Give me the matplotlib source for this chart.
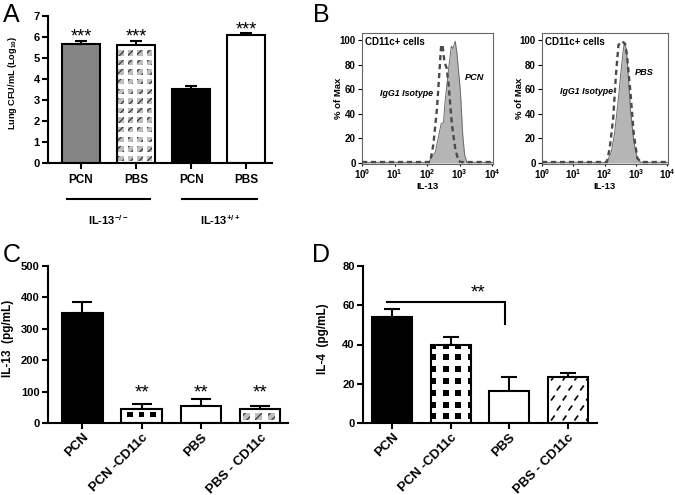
import numpy as np
import matplotlib
matplotlib.use('Agg')
import matplotlib.pyplot as plt
from matplotlib.patches import Rectangle
from matplotlib.collections import LineCollection

plt.rcParams['font.family'] = ['Liberation Sans', 'DejaVu Sans']
plt.rcParams['font.weight'] = 'bold'
plt.rcParams['mathtext.fontset'] = 'custom'
plt.rcParams['mathtext.rm'] = 'Liberation Sans:bold'
plt.rcParams['mathtext.it'] = 'Liberation Sans:italic:bold'
plt.rcParams['mathtext.bf'] = 'Liberation Sans:bold'
plt.rcParams['mathtext.default'] = 'rm'
plt.rcParams['hatch.linewidth'] = 0.9

# ---------------- data ----------------
a_categories = ['PCN', 'PBS', 'PCN', 'PBS']
a_values = [5.68, 5.63, 3.54, 6.08]
a_errors = [0.11, 0.18, 0.11, 0.13]
a_groups = ['IL-13$^{-/-}$', 'IL-13$^{+/+}$']
a_stars = ['***', '***', '', '***']

# flow histograms (log10 IL-13 intensity, % of max)
b_pcn_log = [0.0, 1.0, 2.0, 2.04, 2.25, 2.43, 2.5, 2.55, 2.66, 2.74, 2.79, 2.86, 2.91, 3.02, 3.09, 3.15, 3.22, 3.5, 4.0]
b_pcn_pct = [0.5, 0.6, 0.5, 0.5, 9, 32, 33, 50, 77, 95, 93, 99, 90, 58, 23, 6.5, 0.5, 0.6, 0.5]
b_iso1_log = [0.0, 1.0, 2.0, 2.09, 2.19, 2.3, 2.37, 2.43, 2.47, 2.53, 2.6, 2.66, 2.76, 2.86, 2.96, 3.05, 3.5, 4.0]
b_iso1_pct = [0.8, 0.8, 0.8, 0.8, 15, 44, 72, 96, 96, 82, 77, 63, 31, 12, 1.5, 0.8, 0.8, 0.8]
b_pbs_log = [0.0, 1.0, 2.0, 2.07, 2.21, 2.32, 2.44, 2.51, 2.58, 2.62, 2.69, 2.73, 2.82, 2.93, 3.04, 3.15, 3.5, 4.0]
b_pbs_pct = [0.5, 0.6, 0.5, 0.5, 9, 25, 53, 72, 89, 97, 93, 80, 44, 17, 4, 0.5, 0.6, 0.5]
b_iso2_log = [0.0, 1.0, 2.0, 2.07, 2.16, 2.27, 2.36, 2.44, 2.55, 2.65, 2.71, 2.82, 2.93, 3.04, 3.15, 3.5, 4.0]
b_iso2_pct = [0.8, 0.8, 0.8, 0.8, 12, 36, 72, 96, 99, 97, 88, 58, 23, 4, 0.8, 0.8, 0.8]
b_ticks = [1, 10, 100, 1000, 10000]
b_ticklabels = ['$10^{0}$', '$10^{1}$', '$10^{2}$', '$10^{3}$', '$10^{4}$']

c_categories = ['PCN', 'PCN -CD11c', 'PBS', 'PBS - CD11c']
c_values = [350, 46, 54, 44]
c_errors = [35, 13, 21, 10]
c_stars = ['', '**', '**', '**']

d_categories = ['PCN', 'PCN -CD11c', 'PBS', 'PBS - CD11c']
d_values = [54.2, 39.7, 16.3, 23.6]
d_errors = [3.7, 4.3, 7.3, 1.7]

W, H = 675, 495
fig = plt.figure(figsize=(W / 100, H / 100), dpi=100)


def rect(l, r, t, b):
    return [l / W, 1 - b / H, (r - l) / W, (b - t) / H]


def style_bar_axes(ax):
    for s in ['top', 'right']:
        ax.spines[s].set_visible(False)
    for s in ['left', 'bottom']:
        ax.spines[s].set_linewidth(1.5)
    ax.tick_params(axis='both', width=1.5, length=4, direction='out', labelsize=8, pad=2)


def px_box(ax, bar):
    x0, y0 = ax.transData.transform((bar.get_x(), bar.get_y()))
    x1, y1 = ax.transData.transform((bar.get_x() + bar.get_width(), bar.get_y() + bar.get_height()))
    return x0, y0, x1, y1


def square_tiles(ax, bar, stepx, stepy, size, offx, offy, face, hatch=None, ec='none'):
    inv = ax.transData.inverted()
    x0, y0, x1, y1 = px_box(ax, bar)
    for cx in np.arange(x0 + offx, x1 + size, stepx):
        for cy in np.arange(y0 + offy, y1 + size, stepy):
            (dx0, dy0) = inv.transform((cx - size / 2, cy - size / 2))
            (dx1, dy1) = inv.transform((cx + size / 2, cy + size / 2))
            r = Rectangle((dx0, dy0), dx1 - dx0, dy1 - dy0, facecolor=face,
                          edgecolor=ec, lw=0, hatch=hatch, zorder=2.5)
            ax.add_patch(r)
            r.set_clip_path(bar)


def slash_tiles(ax, bar, stepx, stepy, offx, offy, alt):
    inv = ax.transData.inverted()
    x0, y0, x1, y1 = px_box(ax, bar)
    segs = []
    for i, cy in enumerate(np.arange(y0 + offy, y1 + 4, stepy)):
        shift = alt if i % 2 else 0
        for cx in np.arange(x0 + offx + shift, x1 + 4, stepx):
            p = inv.transform([(cx - 1.8, cy - 2.5), (cx + 1.8, cy + 2.5)])
            segs.append(p)
    lc = LineCollection(segs, colors='black', linewidths=1.2, zorder=2.5)
    ax.add_collection(lc)
    lc.set_clip_path(bar)


def bar_panel(ax, values, errors, faces, capsize):
    x = np.arange(len(values))
    bars = ax.bar(x, values, width=0.68, color=faces, edgecolor='none', zorder=2)
    ax.bar(x, values, width=0.68, fill=False, edgecolor='black', linewidth=1.5, zorder=3)
    ax.errorbar(x, values, yerr=[np.zeros(len(values)), errors], fmt='none', ecolor='black',
                elinewidth=1.5, capsize=capsize, capthick=1.5, zorder=1)
    return bars


# ---------------- panel A ----------------
axA = fig.add_axes(rect(48, 272, 16, 163))
barsA = bar_panel(axA, a_values, a_errors, ['#858585', 'white', 'black', 'white'], 4)
axA.set_xlim(-0.6, 3.47)
axA.set_ylim(0, 7)
style_bar_axes(axA)
axA.set_yticks(range(0, 8))
axA.set_xticks(range(len(a_categories)))
axA.set_xticklabels(a_categories, fontsize=8.5)
axA.tick_params(axis='x', pad=4)
square_tiles(axA, barsA.patches[1], 9.5, 9.6, 5.5, 3.8, 4.5, '#bdbdbd', hatch='////', ec='#3a3a3a')
star_a_y = [5.81, 5.81, 0, 6.1]
for i, s in enumerate(a_stars):
    if s:
        axA.text(i, star_a_y[i], s, ha='center', va='baseline', fontsize=13, fontweight='normal')
axA.text(-0.16, 0.544, 'Lung CFU/mL (Log$_{10}$)', transform=axA.transAxes, rotation=90,
         ha='center', va='center', fontsize=6.6)
tr = axA.get_xaxis_transform()
axA.plot([-0.25, 1.25], [-0.245, -0.245], color='black', lw=1.5, transform=tr, clip_on=False)
axA.plot([1.84, 3.2], [-0.245, -0.245], color='black', lw=1.5, transform=tr, clip_on=False)
axA.text(0.49, -0.39, a_groups[0], transform=tr, ha='center', va='center', fontsize=8)
axA.text(2.53, -0.39, a_groups[1], transform=tr, ha='center', va='center', fontsize=8)

# ---------------- panel B ----------------
def hist_panel(ax, flog, fpct, ilog, ipct, name, name_xy, iso_xy):
    fx = 10 ** np.array(flog)
    ix = 10 ** np.array(ilog)
    ax.fill_between(fx, fpct, 0, color='#b5b5b5', lw=0, zorder=1)
    ax.plot(fx, fpct, color='#6a6a6a', lw=0.7, zorder=2)
    ax.plot(ix, ipct, color='#4a4a4a', lw=1.7, ls=(0, (2.2, 1.6)), zorder=3)
    ax.set_xscale('log')
    ax.set_xlim(1, 10 ** 4.02)
    ax.set_ylim(-0.8, 105.7)
    ax.set_xticks(b_ticks)
    ax.set_xticklabels(b_ticklabels)
    ax.xaxis.set_minor_locator(matplotlib.ticker.NullLocator())
    ax.set_yticks(range(0, 101, 20))
    for s in ax.spines.values():
        s.set_linewidth(0.8)
        s.set_color('#666666')
    ax.tick_params(axis='y', length=3, width=0.8, labelsize=7, pad=1.5)
    ax.tick_params(axis='x', length=1.5, width=0.8, labelsize=7, pad=1)
    ax.text(0.02, 0.93, 'CD11c+ cells', transform=ax.transAxes, ha='left', va='center', fontsize=7)
    ax.text(iso_xy[0], iso_xy[1], 'IgG1 Isotype', transform=ax.transAxes, ha='center', va='center',
            fontsize=6.4, style='italic')
    ax.text(name_xy[0], name_xy[1], name, transform=ax.transAxes, ha='center', va='center',
            fontsize=6.6, style='italic')
    ax.text(-0.18, 0.5, '% of Max', transform=ax.transAxes, rotation=90, ha='center', va='center', fontsize=6.8)
    ax.text(0.5, -0.17, 'IL-13', transform=ax.transAxes, ha='center', va='center', fontsize=6.8)


axB1 = fig.add_axes(rect(362, 493, 33, 164))
hist_panel(axB1, b_pcn_log, b_pcn_pct, b_iso1_log, b_iso1_pct, 'PCN',
           ((474.5 - 362) / 131, (164 - 77) / 131), ((407 - 362) / 131, (164 - 94) / 131))
axB2 = fig.add_axes(rect(542, 668, 33, 164))
hist_panel(axB2, b_pbs_log, b_pbs_pct, b_iso2_log, b_iso2_pct, 'PBS',
           ((644.5 - 542) / 126, (164 - 76) / 126), ((587 - 542) / 126, (164 - 94) / 126))

# ---------------- panel C ----------------
axC = fig.add_axes(rect(48, 288, 266, 423))
barsC = bar_panel(axC, c_values, c_errors, ['black', 'white', 'white', 'white'], 7)
axC.set_xlim(-0.58, 3.47)
axC.set_ylim(0, 500)
style_bar_axes(axC)
axC.set_yticks(range(0, 501, 100))
axC.set_xticks(range(len(c_categories)))
axC.set_xticklabels(c_categories, rotation=45, ha='right', rotation_mode='anchor', fontsize=9.5)
square_tiles(axC, barsC.patches[1], 11.7, 11.7, 5.5, 8.3, 8.7, 'black')
square_tiles(axC, barsC.patches[3], 12.5, 12, 7, 6.5, 6.5, '#bdbdbd', hatch='////', ec='#3a3a3a')
for i, s in enumerate(c_stars):
    if s:
        axC.text(i, 81, s, ha='center', va='baseline', fontsize=13.5, fontweight='normal')
axC.text(-0.167, 0.54, 'IL-13  (pg/mL)', transform=axC.transAxes, rotation=90,
         ha='center', va='center', fontsize=8.5)

# ---------------- panel D ----------------
axD = fig.add_axes(rect(363, 597, 266, 423))
barsD = bar_panel(axD, d_values, d_errors, ['black', 'white', 'white', 'white'], 5.5)
axD.set_xlim(-0.5, 3.5)
axD.set_ylim(0, 80)
style_bar_axes(axD)
axD.set_yticks(range(0, 81, 20))
axD.set_xticks(range(len(d_categories)))
axD.set_xticklabels(d_categories, rotation=45, ha='right', rotation_mode='anchor', fontsize=9.5)
square_tiles(axD, barsD.patches[1], 12.5, 11.8, 6, 2.5, 6.7, 'black')
slash_tiles(axD, barsD.patches[3], 11.7, 10, 5, 5, 5.8)
axD.plot([-0.09, 1.93, 1.93], [61.8, 61.8, 50.3], color='black', lw=1.5, solid_joinstyle='miter')
axD.text(1.47, 64.2, '**', ha='center', va='baseline', fontsize=13.5, fontweight='normal')
axD.text(-0.171, 0.54, 'IL-4  (pg/mL)', transform=axD.transAxes, rotation=90,
         ha='center', va='center', fontsize=8.5)

# ---------------- panel letters ----------------
for letter, x, y in [('A', 3, 22), ('B', 313, 22), ('C', 3, 262), ('D', 312, 262)]:
    fig.text(x / W, 1 - y / H, letter, ha='left', va='baseline', fontsize=18, fontweight='normal')

fig.savefig('out.png', dpi=100)
